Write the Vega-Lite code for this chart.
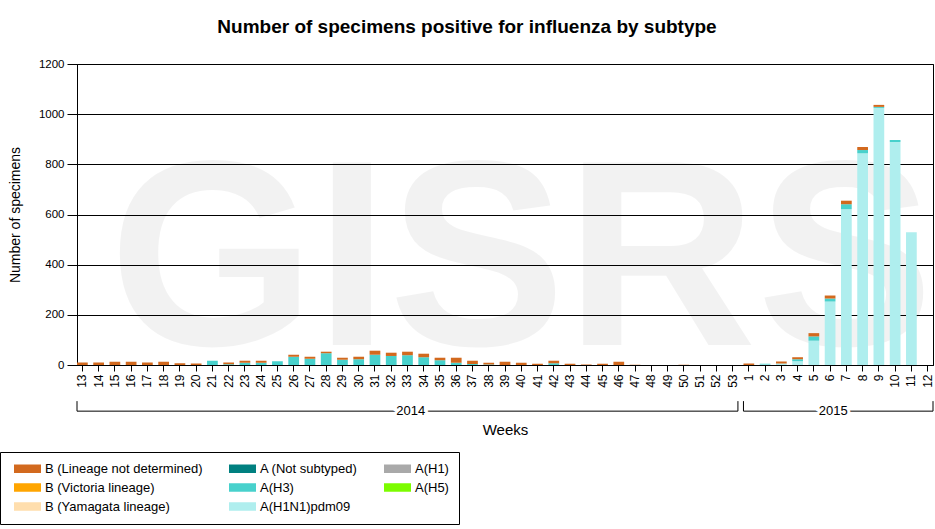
{
  "$schema": "https://vega.github.io/schema/vega-lite/v6.json",
  "description": "Number of specimens positive for influenza by subtype, weekly, 2014-2015.",
  "autosize": {"type": "none"},
  "width": 856,
  "height": 301,
  "padding": {"left": 77, "top": 64, "right": 2, "bottom": 164},
  "background": "white",
  "title": {
    "text": "Number of specimens positive for influenza by subtype",
    "font": "Liberation Sans",
    "fontSize": 19,
    "fontWeight": "bold",
    "color": "#000",
    "anchor": "middle",
    "frame": "group",
    "dx": -38,
    "offset": 6,
    "baseline": "alphabetic"
  },
  "config": {
    "font": "Liberation Sans",
    "view": {"stroke": "#000", "strokeWidth": 1},
    "axis": {
      "labelColor": "#000",
      "titleColor": "#000",
      "tickColor": "#000",
      "domainColor": "#000",
      "labelFont": "Liberation Sans",
      "titleFont": "Liberation Sans",
      "titleFontWeight": "normal"
    }
  },
  "layer": [
    {
      "data": {"values": [{"label": "GISRS"}]},
      "mark": {
        "type": "text",
        "font": "Liberation Sans",
        "fontWeight": "bold",
        "fontSize": 265,
        "fill": "#000",
        "fillOpacity": 0.05,
        "align": "center",
        "baseline": "alphabetic"
      },
      "encoding": {
        "text": {"field": "label"},
        "x": {"datum": "2014-40", "type": "ordinal"},
        "y": {"datum": 80, "type": "quantitative"}
      }
    },
    {
      "data": {
        "values": [
          {"week": "2014-13", "subtype": "B (Lineage not determined)", "count": 10},
          {"week": "2014-14", "subtype": "B (Lineage not determined)", "count": 10},
          {"week": "2014-15", "subtype": "B (Lineage not determined)", "count": 13},
          {"week": "2014-16", "subtype": "B (Lineage not determined)", "count": 13},
          {"week": "2014-17", "subtype": "B (Lineage not determined)", "count": 10},
          {"week": "2014-18", "subtype": "B (Lineage not determined)", "count": 13},
          {"week": "2014-19", "subtype": "B (Lineage not determined)", "count": 7},
          {"week": "2014-20", "subtype": "B (Lineage not determined)", "count": 6},
          {"week": "2014-21", "subtype": "A(H3)", "count": 17},
          {"week": "2014-22", "subtype": "A(H3)", "count": 3},
          {"week": "2014-22", "subtype": "B (Lineage not determined)", "count": 7},
          {"week": "2014-23", "subtype": "A(H3)", "count": 9},
          {"week": "2014-23", "subtype": "B (Lineage not determined)", "count": 8},
          {"week": "2014-24", "subtype": "A(H3)", "count": 9},
          {"week": "2014-24", "subtype": "B (Lineage not determined)", "count": 8},
          {"week": "2014-25", "subtype": "A(H3)", "count": 15},
          {"week": "2014-26", "subtype": "A(H3)", "count": 33},
          {"week": "2014-26", "subtype": "B (Lineage not determined)", "count": 8},
          {"week": "2014-27", "subtype": "A(H3)", "count": 25},
          {"week": "2014-27", "subtype": "B (Lineage not determined)", "count": 8},
          {"week": "2014-28", "subtype": "A(H3)", "count": 47},
          {"week": "2014-28", "subtype": "B (Lineage not determined)", "count": 6},
          {"week": "2014-29", "subtype": "A(H3)", "count": 21},
          {"week": "2014-29", "subtype": "B (Lineage not determined)", "count": 8},
          {"week": "2014-30", "subtype": "A(H3)", "count": 23},
          {"week": "2014-30", "subtype": "B (Lineage not determined)", "count": 10},
          {"week": "2014-31", "subtype": "A(H3)", "count": 41},
          {"week": "2014-31", "subtype": "B (Lineage not determined)", "count": 16},
          {"week": "2014-32", "subtype": "A(H3)", "count": 36},
          {"week": "2014-32", "subtype": "B (Lineage not determined)", "count": 13},
          {"week": "2014-33", "subtype": "A(H3)", "count": 39},
          {"week": "2014-33", "subtype": "B (Lineage not determined)", "count": 14},
          {"week": "2014-34", "subtype": "A(H3)", "count": 31},
          {"week": "2014-34", "subtype": "B (Lineage not determined)", "count": 14},
          {"week": "2014-35", "subtype": "A(H3)", "count": 19},
          {"week": "2014-35", "subtype": "B (Lineage not determined)", "count": 10},
          {"week": "2014-36", "subtype": "A(H3)", "count": 9},
          {"week": "2014-36", "subtype": "B (Lineage not determined)", "count": 20},
          {"week": "2014-37", "subtype": "A(H3)", "count": 4},
          {"week": "2014-37", "subtype": "B (Lineage not determined)", "count": 13},
          {"week": "2014-38", "subtype": "A(H3)", "count": 2},
          {"week": "2014-38", "subtype": "B (Lineage not determined)", "count": 7},
          {"week": "2014-39", "subtype": "B (Lineage not determined)", "count": 13},
          {"week": "2014-40", "subtype": "B (Lineage not determined)", "count": 9},
          {"week": "2014-41", "subtype": "B (Lineage not determined)", "count": 5},
          {"week": "2014-42", "subtype": "A(H3)", "count": 7},
          {"week": "2014-42", "subtype": "B (Lineage not determined)", "count": 10},
          {"week": "2014-43", "subtype": "B (Lineage not determined)", "count": 5},
          {"week": "2014-44", "subtype": "B (Lineage not determined)", "count": 2},
          {"week": "2014-45", "subtype": "B (Lineage not determined)", "count": 5},
          {"week": "2014-46", "subtype": "B (Lineage not determined)", "count": 13},
          {"week": "2014-47", "subtype": "B (Lineage not determined)", "count": 1},
          {"week": "2014-50", "subtype": "B (Lineage not determined)", "count": 1},
          {"week": "2015-01", "subtype": "B (Lineage not determined)", "count": 6},
          {"week": "2015-02", "subtype": "A(H1N1)pdm09", "count": 2},
          {"week": "2015-02", "subtype": "A(H3)", "count": 3},
          {"week": "2015-03", "subtype": "A(H1N1)pdm09", "count": 6},
          {"week": "2015-03", "subtype": "B (Lineage not determined)", "count": 8},
          {"week": "2015-04", "subtype": "A(H1N1)pdm09", "count": 15},
          {"week": "2015-04", "subtype": "A(H3)", "count": 8},
          {"week": "2015-04", "subtype": "B (Lineage not determined)", "count": 8},
          {"week": "2015-05", "subtype": "A(H1N1)pdm09", "count": 97},
          {"week": "2015-05", "subtype": "A(H3)", "count": 17},
          {"week": "2015-05", "subtype": "B (Lineage not determined)", "count": 13},
          {"week": "2015-06", "subtype": "A(H1N1)pdm09", "count": 253},
          {"week": "2015-06", "subtype": "A(H3)", "count": 12},
          {"week": "2015-06", "subtype": "B (Lineage not determined)", "count": 12},
          {"week": "2015-07", "subtype": "A(H1N1)pdm09", "count": 621},
          {"week": "2015-07", "subtype": "A(H3)", "count": 20},
          {"week": "2015-07", "subtype": "B (Lineage not determined)", "count": 14},
          {"week": "2015-08", "subtype": "A(H1N1)pdm09", "count": 844},
          {"week": "2015-08", "subtype": "A(H3)", "count": 13},
          {"week": "2015-08", "subtype": "B (Lineage not determined)", "count": 12},
          {"week": "2015-09", "subtype": "A(H1N1)pdm09", "count": 1025},
          {"week": "2015-09", "subtype": "A(H3)", "count": 4},
          {"week": "2015-09", "subtype": "B (Lineage not determined)", "count": 8},
          {"week": "2015-10", "subtype": "A(H1N1)pdm09", "count": 889},
          {"week": "2015-10", "subtype": "A(H3)", "count": 8},
          {"week": "2015-11", "subtype": "A(H1N1)pdm09", "count": 529}
        ]
      },
      "mark": {"type": "bar"},
      "encoding": {
        "x": {
          "field": "week",
          "type": "ordinal",
          "scale": {
            "domain": [
              "2014-13", "2014-14", "2014-15", "2014-16", "2014-17", "2014-18", "2014-19", "2014-20",
              "2014-21", "2014-22", "2014-23", "2014-24", "2014-25", "2014-26", "2014-27", "2014-28",
              "2014-29", "2014-30", "2014-31", "2014-32", "2014-33", "2014-34", "2014-35", "2014-36",
              "2014-37", "2014-38", "2014-39", "2014-40", "2014-41", "2014-42", "2014-43", "2014-44",
              "2014-45", "2014-46", "2014-47", "2014-48", "2014-49", "2014-50", "2014-51", "2014-52",
              "2014-53", "2015-01", "2015-02", "2015-03", "2015-04", "2015-05", "2015-06", "2015-07",
              "2015-08", "2015-09", "2015-10", "2015-11", "2015-12"
            ],
            "paddingInner": 0.34,
            "paddingOuter": 0
          },
          "axis": {
            "title": "Weeks",
            "titleFontSize": 15,
            "titlePadding": 35,
            "labelAngle": -90,
            "labelFontSize": 12,
            "labelPadding": 3,
            "tickSize": 6,
            "labelExpr": "toNumber(split(datum.value, '-')[1])"
          }
        },
        "y": {
          "field": "count",
          "type": "quantitative",
          "stack": "zero",
          "scale": {"domain": [0, 1200], "nice": false},
          "axis": {
            "title": "Number of specimens",
            "titleFontSize": 14,
            "titlePadding": 16,
            "values": [0, 200, 400, 600, 800, 1000, 1200],
            "format": "d",
            "labelFontSize": 11.5,
            "labelPadding": 3,
            "tickSize": 10,
            "grid": true,
            "gridColor": "#000",
            "gridOpacity": 1
          }
        },
        "color": {
          "field": "subtype",
          "type": "nominal",
          "scale": {
            "domain": [
              "B (Lineage not determined)", "B (Victoria lineage)", "B (Yamagata lineage)",
              "A (Not subtyped)", "A(H3)", "A(H1N1)pdm09",
              "A(H1)", "A(H5)"
            ],
            "range": ["#D2691E", "#FFA500", "#FFDEAD", "#008080", "#48D1CC", "#AFEEEE", "#A9A9A9", "#7CFC00"]
          },
          "legend": {
            "title": null,
            "orient": "none",
            "legendX": -77,
            "legendY": 388,
            "columns": 3,
            "symbolType": "M-2.077,-0.654H2.077V0.654H-2.077Z",
            "symbolSize": 169,
            "symbolStrokeWidth": 0,
            "symbolOpacity": 1,
            "symbolOffset": 11,
            "labelFont": "Liberation Sans",
            "labelFontSize": 13,
            "labelColor": "#000",
            "labelOffset": 11,
            "labelLimit": 300,
            "rowPadding": 5,
            "columnPadding": 22,
            "padding": 10,
            "strokeColor": "#000",
            "fillColor": "white"
          }
        },
        "order": {"field": "subtype", "sort": "ascending"}
      }
    },
    {
      "data": {
        "values": [
          {"year": "2014", "first": "2014-13", "last": "2014-53", "middle": "2014-33"},
          {"year": "2015", "first": "2015-01", "last": "2015-12", "middle": "2015-06"}
        ]
      },
      "layer": [
        {
          "mark": {"type": "rule", "color": "#000", "strokeWidth": 1},
          "encoding": {
            "x": {"field": "first", "type": "ordinal", "bandPosition": 0},
            "x2": {"field": "last", "bandPosition": 1},
            "y": {"datum": -184, "type": "quantitative"}
          }
        },
        {
          "mark": {"type": "rule", "color": "#000", "strokeWidth": 1},
          "encoding": {
            "x": {"field": "first", "type": "ordinal", "bandPosition": 0},
            "y": {"datum": -144, "type": "quantitative"},
            "y2": {"datum": -184}
          }
        },
        {
          "mark": {"type": "rule", "color": "#000", "strokeWidth": 1},
          "encoding": {
            "x": {"field": "last", "type": "ordinal", "bandPosition": 1},
            "y": {"datum": -144, "type": "quantitative"},
            "y2": {"datum": -184}
          }
        },
        {
          "mark": {"type": "text", "fontSize": 13, "baseline": "middle", "align": "center", "fill": "white", "stroke": "white", "strokeWidth": 6},
          "encoding": {
            "text": {"field": "year"},
            "x": {"field": "middle", "type": "ordinal", "bandPosition": 0.8},
            "y": {"datum": -184, "type": "quantitative"}
          }
        },
        {
          "mark": {"type": "text", "fontSize": 13, "baseline": "middle", "align": "center", "fill": "#000"},
          "encoding": {
            "text": {"field": "year"},
            "x": {"field": "middle", "type": "ordinal", "bandPosition": 0.8},
            "y": {"datum": -184, "type": "quantitative"}
          }
        }
      ]
    }
  ]
}
